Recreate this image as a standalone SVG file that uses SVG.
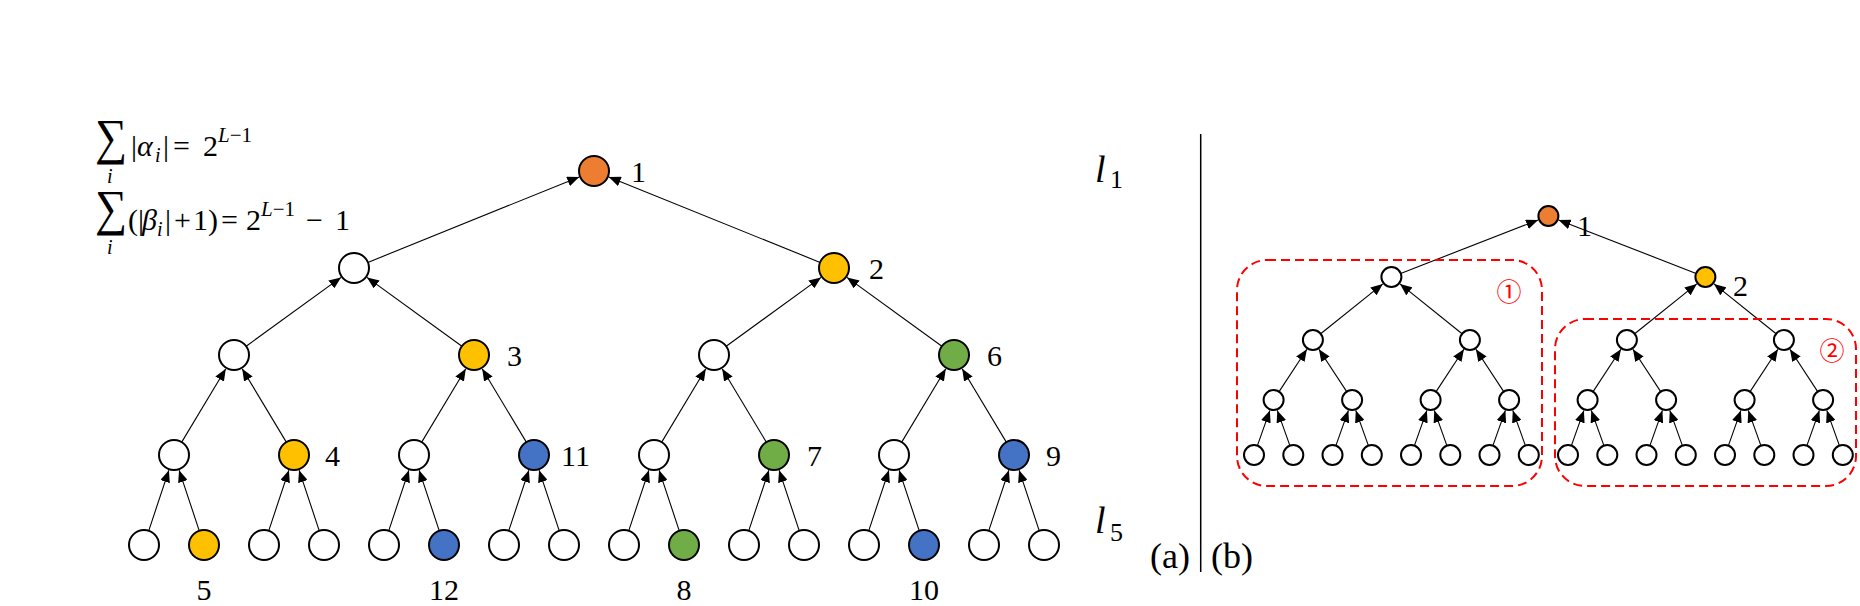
<svg xmlns="http://www.w3.org/2000/svg" width="1860" height="606" viewBox="0 0 1860 606">
<style>
.bg{fill:#fff}
.n{stroke:#000;stroke-width:2}
.w{fill:#fff}.o{fill:#ED7D31}.y{fill:#FFC000}.g{fill:#70AD47}.b{fill:#4472C4}
.c line{stroke:#000;stroke-width:1.1;marker-end:url(#ah)}
.lb{font-family:"Liberation Serif","Times New Roman",serif;font-size:30px;fill:#000}
.m{font-family:"Liberation Serif","Times New Roman",serif;fill:#000}
.it{font-style:italic}
.box{fill:none;stroke:#FF0000;stroke-width:2;stroke-dasharray:9 5}
.cn{font-family:"Noto Sans CJK SC",sans-serif;font-size:25px;fill:#FF0000;text-anchor:middle}
</style>
<defs>
<marker id="ah" viewBox="0 0 12 10" refX="12" refY="5" markerWidth="12" markerHeight="10" markerUnits="userSpaceOnUse" orient="auto">
<path d="M0,0 L12,5 L0,10 z" fill="#000"/>
</marker>
</defs>
<rect class="bg" x="0" y="0" width="1860" height="606"/>

<!-- formulas -->
<g id="formula1" class="m">
<text transform="translate(95,154) scale(0.9,1)" font-size="50">∑</text>
<text x="107" y="183" font-size="20" class="it">i</text>
<text y="156" font-size="30"><tspan x="131">|</tspan><tspan x="137" class="it">α</tspan><tspan x="155" y="162" font-size="20" class="it">i</tspan><tspan x="163" y="156">|</tspan><tspan x="173">=</tspan><tspan x="203">2</tspan><tspan x="218" y="142" font-size="21" class="it">L</tspan><tspan y="142" font-size="21">−1</tspan></text>
</g>
<g id="formula2" class="m">
<text transform="translate(95,225) scale(0.9,1)" font-size="50">∑</text>
<text x="107" y="254" font-size="20" class="it">i</text>
<text y="230" font-size="30"><tspan x="128">(</tspan><tspan x="138">|</tspan><tspan x="142" class="it">β</tspan><tspan x="157" y="236" font-size="20" class="it">i</tspan><tspan x="165" y="230">|</tspan><tspan x="174">+</tspan><tspan x="193">1</tspan><tspan x="208">)</tspan><tspan x="221">=</tspan><tspan x="246">2</tspan><tspan x="261" y="216" font-size="21" class="it">L</tspan><tspan y="216" font-size="21">−1</tspan><tspan x="306" y="230">−</tspan><tspan x="335">1</tspan></text>
</g>

<!-- connectors -->
<g id="connectors" class="c">
<g id="conn-a">
<line x1="367.9" y1="262.4" x2="579.2" y2="177.0"/>
<line x1="820.1" y1="262.4" x2="608.8" y2="177.0"/>
<line x1="246.2" y1="346.2" x2="341.0" y2="277.4"/>
<line x1="461.9" y1="346.2" x2="367.0" y2="277.4"/>
<line x1="726.2" y1="346.2" x2="821.0" y2="277.4"/>
<line x1="941.9" y1="346.2" x2="847.0" y2="277.4"/>
<line x1="181.7" y1="442.1" x2="225.8" y2="368.7"/>
<line x1="286.3" y1="442.1" x2="242.2" y2="368.7"/>
<line x1="421.7" y1="442.1" x2="465.8" y2="368.7"/>
<line x1="526.3" y1="442.1" x2="482.2" y2="368.7"/>
<line x1="661.7" y1="442.1" x2="705.8" y2="368.7"/>
<line x1="766.3" y1="442.1" x2="722.2" y2="368.7"/>
<line x1="901.7" y1="442.1" x2="945.8" y2="368.7"/>
<line x1="1006.3" y1="442.1" x2="962.2" y2="368.7"/>
<line x1="148.7" y1="530.8" x2="168.9" y2="470.2"/>
<line x1="199.3" y1="530.8" x2="179.1" y2="470.2"/>
<line x1="268.7" y1="530.8" x2="288.9" y2="470.2"/>
<line x1="319.3" y1="530.8" x2="299.1" y2="470.2"/>
<line x1="388.7" y1="530.8" x2="408.9" y2="470.2"/>
<line x1="439.3" y1="530.8" x2="419.1" y2="470.2"/>
<line x1="508.7" y1="530.8" x2="528.9" y2="470.2"/>
<line x1="559.3" y1="530.8" x2="539.1" y2="470.2"/>
<line x1="628.7" y1="530.8" x2="648.9" y2="470.2"/>
<line x1="679.3" y1="530.8" x2="659.1" y2="470.2"/>
<line x1="748.7" y1="530.8" x2="768.9" y2="470.2"/>
<line x1="799.3" y1="530.8" x2="779.1" y2="470.2"/>
<line x1="868.7" y1="530.8" x2="888.9" y2="470.2"/>
<line x1="919.3" y1="530.8" x2="899.1" y2="470.2"/>
<line x1="988.7" y1="530.8" x2="1008.9" y2="470.2"/>
<line x1="1039.3" y1="530.8" x2="1019.1" y2="470.2"/>
</g>
<g id="conn-b">
<line x1="1400.7" y1="273.4" x2="1538.1" y2="220.0"/>
<line x1="1696.1" y1="273.4" x2="1558.6" y2="220.0"/>
<line x1="1320.7" y1="333.7" x2="1382.8" y2="283.9"/>
<line x1="1462.1" y1="333.7" x2="1400.0" y2="283.9"/>
<line x1="1634.7" y1="333.7" x2="1696.8" y2="283.9"/>
<line x1="1776.1" y1="333.7" x2="1714.0" y2="283.9"/>
<line x1="1279.1" y1="391.6" x2="1306.9" y2="349.2"/>
<line x1="1346.7" y1="391.6" x2="1318.9" y2="349.2"/>
<line x1="1436.1" y1="391.6" x2="1463.9" y2="349.2"/>
<line x1="1503.7" y1="391.6" x2="1475.9" y2="349.2"/>
<line x1="1593.1" y1="391.6" x2="1620.9" y2="349.2"/>
<line x1="1660.7" y1="391.6" x2="1632.9" y2="349.2"/>
<line x1="1750.1" y1="391.6" x2="1777.9" y2="349.2"/>
<line x1="1817.7" y1="391.6" x2="1789.9" y2="349.2"/>
<line x1="1257.4" y1="445.6" x2="1269.9" y2="410.4"/>
<line x1="1289.9" y1="445.6" x2="1277.3" y2="410.4"/>
<line x1="1335.9" y1="445.6" x2="1348.4" y2="410.4"/>
<line x1="1368.4" y1="445.6" x2="1355.8" y2="410.4"/>
<line x1="1414.4" y1="445.6" x2="1426.9" y2="410.4"/>
<line x1="1446.9" y1="445.6" x2="1434.3" y2="410.4"/>
<line x1="1492.9" y1="445.6" x2="1505.4" y2="410.4"/>
<line x1="1525.4" y1="445.6" x2="1512.8" y2="410.4"/>
<line x1="1571.4" y1="445.6" x2="1583.9" y2="410.4"/>
<line x1="1603.9" y1="445.6" x2="1591.3" y2="410.4"/>
<line x1="1649.9" y1="445.6" x2="1662.4" y2="410.4"/>
<line x1="1682.4" y1="445.6" x2="1669.8" y2="410.4"/>
<line x1="1728.4" y1="445.6" x2="1740.9" y2="410.4"/>
<line x1="1760.9" y1="445.6" x2="1748.3" y2="410.4"/>
<line x1="1806.9" y1="445.6" x2="1819.4" y2="410.4"/>
<line x1="1839.4" y1="445.6" x2="1826.8" y2="410.4"/>
</g>
</g>

<!-- panel (a) nodes -->
<g id="nodes-a">
<g id="a-n1"><circle class="n o" cx="594" cy="171" r="15"/><text class="lb" x="631" y="182">1</text></g>
<g id="a-l2-0"><circle class="n w" cx="354" cy="268" r="15"/></g>
<g id="a-n2"><circle class="n y" cx="834" cy="268" r="15"/><text class="lb" x="869" y="279">2</text></g>
<g id="a-l3-0"><circle class="n w" cx="234" cy="355" r="15"/></g>
<g id="a-n3"><circle class="n y" cx="474" cy="355" r="15"/><text class="lb" x="507" y="366">3</text></g>
<g id="a-l3-2"><circle class="n w" cx="714" cy="355" r="15"/></g>
<g id="a-n6"><circle class="n g" cx="954" cy="355" r="15"/><text class="lb" x="987" y="366">6</text></g>
<g id="a-l4-0"><circle class="n w" cx="174" cy="455" r="15"/></g>
<g id="a-n4"><circle class="n y" cx="294" cy="455" r="15"/><text class="lb" x="325" y="466">4</text></g>
<g id="a-l4-2"><circle class="n w" cx="414" cy="455" r="15"/></g>
<g id="a-n11"><circle class="n b" cx="534" cy="455" r="15"/><text class="lb" x="561" y="466">11</text></g>
<g id="a-l4-4"><circle class="n w" cx="654" cy="455" r="15"/></g>
<g id="a-n7"><circle class="n g" cx="774" cy="455" r="15"/><text class="lb" x="807" y="466">7</text></g>
<g id="a-l4-6"><circle class="n w" cx="894" cy="455" r="15"/></g>
<g id="a-n9"><circle class="n b" cx="1014" cy="455" r="15"/><text class="lb" x="1046" y="466">9</text></g>
<g id="a-l5-0"><circle class="n w" cx="144" cy="545" r="15"/></g>
<g id="a-n5"><circle class="n y" cx="204" cy="545" r="15"/><text class="lb" x="204" y="600" text-anchor="middle">5</text></g>
<g id="a-l5-2"><circle class="n w" cx="264" cy="545" r="15"/></g>
<g id="a-l5-3"><circle class="n w" cx="324" cy="545" r="15"/></g>
<g id="a-l5-4"><circle class="n w" cx="384" cy="545" r="15"/></g>
<g id="a-n12"><circle class="n b" cx="444" cy="545" r="15"/><text class="lb" x="444" y="600" text-anchor="middle">12</text></g>
<g id="a-l5-6"><circle class="n w" cx="504" cy="545" r="15"/></g>
<g id="a-l5-7"><circle class="n w" cx="564" cy="545" r="15"/></g>
<g id="a-l5-8"><circle class="n w" cx="624" cy="545" r="15"/></g>
<g id="a-n8"><circle class="n g" cx="684" cy="545" r="15"/><text class="lb" x="684" y="600" text-anchor="middle">8</text></g>
<g id="a-l5-10"><circle class="n w" cx="744" cy="545" r="15"/></g>
<g id="a-l5-11"><circle class="n w" cx="804" cy="545" r="15"/></g>
<g id="a-l5-12"><circle class="n w" cx="864" cy="545" r="15"/></g>
<g id="a-n10"><circle class="n b" cx="924" cy="545" r="15"/><text class="lb" x="924" y="600" text-anchor="middle">10</text></g>
<g id="a-l5-14"><circle class="n w" cx="984" cy="545" r="15"/></g>
<g id="a-l5-15"><circle class="n w" cx="1044" cy="545" r="15"/></g>
</g>

<!-- level labels and divider -->
<g id="level-l1" class="m"><text x="1095" y="182" font-size="38" class="it">l</text><text x="1110" y="188" font-size="26">1</text></g>
<g id="level-l5" class="m"><text x="1095" y="533" font-size="38" class="it">l</text><text x="1110" y="541" font-size="26">5</text></g>
<line id="divider" x1="1200.7" y1="134" x2="1200.7" y2="572" stroke="#000" stroke-width="1.5"/>
<text id="label-a" class="m" x="1150" y="568" font-size="36">(a)</text>
<text id="label-b" class="m" x="1211" y="568" font-size="36">(b)</text>

<!-- panel (b) groups -->
<g id="group1"><rect class="box" x="1237" y="260" width="305" height="226" rx="30" ry="30"/><text class="cn" x="1509" y="301">①</text></g>
<g id="group2"><rect class="box" x="1555" y="319" width="301" height="167" rx="30" ry="30"/><text class="cn" x="1832" y="360">②</text></g>

<!-- panel (b) nodes -->
<g id="nodes-b">
<g id="b-n1"><circle class="n o" cx="1548.4" cy="216" r="10"/><text class="lb" x="1577" y="236">1</text></g>
<g id="b-l2-0"><circle class="n w" cx="1391.4" cy="277" r="10"/></g>
<g id="b-n2"><circle class="n y" cx="1705.4" cy="277" r="10"/><text class="lb" x="1733" y="296">2</text></g>
<g id="b-l3-0"><circle class="n w" cx="1312.9" cy="340" r="10"/></g>
<g id="b-l3-1"><circle class="n w" cx="1469.9" cy="340" r="10"/></g>
<g id="b-l3-2"><circle class="n w" cx="1626.9" cy="340" r="10"/></g>
<g id="b-l3-3"><circle class="n w" cx="1783.9" cy="340" r="10"/></g>
<g id="b-l4-0"><circle class="n w" cx="1273.6" cy="400" r="10"/></g>
<g id="b-l4-1"><circle class="n w" cx="1352.1" cy="400" r="10"/></g>
<g id="b-l4-2"><circle class="n w" cx="1430.6" cy="400" r="10"/></g>
<g id="b-l4-3"><circle class="n w" cx="1509.1" cy="400" r="10"/></g>
<g id="b-l4-4"><circle class="n w" cx="1587.6" cy="400" r="10"/></g>
<g id="b-l4-5"><circle class="n w" cx="1666.1" cy="400" r="10"/></g>
<g id="b-l4-6"><circle class="n w" cx="1744.6" cy="400" r="10"/></g>
<g id="b-l4-7"><circle class="n w" cx="1823.1" cy="400" r="10"/></g>
<g id="b-l5-0"><circle class="n w" cx="1254" cy="455" r="10"/></g>
<g id="b-l5-1"><circle class="n w" cx="1293.3" cy="455" r="10"/></g>
<g id="b-l5-2"><circle class="n w" cx="1332.5" cy="455" r="10"/></g>
<g id="b-l5-3"><circle class="n w" cx="1371.8" cy="455" r="10"/></g>
<g id="b-l5-4"><circle class="n w" cx="1411" cy="455" r="10"/></g>
<g id="b-l5-5"><circle class="n w" cx="1450.3" cy="455" r="10"/></g>
<g id="b-l5-6"><circle class="n w" cx="1489.5" cy="455" r="10"/></g>
<g id="b-l5-7"><circle class="n w" cx="1528.8" cy="455" r="10"/></g>
<g id="b-l5-8"><circle class="n w" cx="1568" cy="455" r="10"/></g>
<g id="b-l5-9"><circle class="n w" cx="1607.3" cy="455" r="10"/></g>
<g id="b-l5-10"><circle class="n w" cx="1646.5" cy="455" r="10"/></g>
<g id="b-l5-11"><circle class="n w" cx="1685.8" cy="455" r="10"/></g>
<g id="b-l5-12"><circle class="n w" cx="1725" cy="455" r="10"/></g>
<g id="b-l5-13"><circle class="n w" cx="1764.3" cy="455" r="10"/></g>
<g id="b-l5-14"><circle class="n w" cx="1803.5" cy="455" r="10"/></g>
<g id="b-l5-15"><circle class="n w" cx="1842.8" cy="455" r="10"/></g>
</g>
</svg>
